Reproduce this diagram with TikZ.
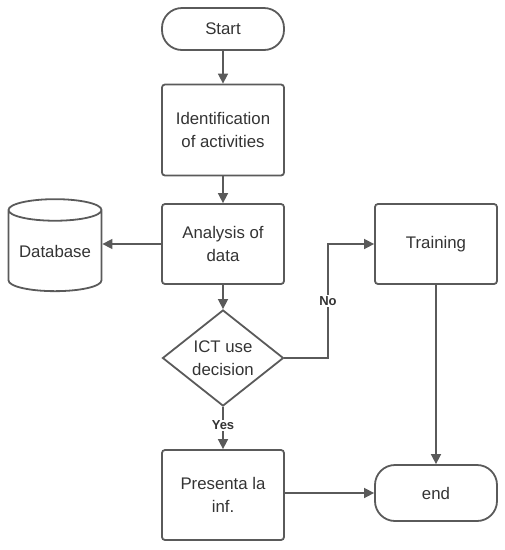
\documentclass[tikz,border=0pt]{standalone}
\usepackage{fontspec}
\setmainfont{Liberation Sans}
\usetikzlibrary{arrows.meta,shapes.geometric}
\definecolor{ln}{HTML}{5A5A5A}
\definecolor{tx}{HTML}{333333}
\begin{document}
\begin{tikzpicture}[x=1pt,y=-1pt,
  base/.style={draw=ln, line width=1.8pt, text=tx, font=\fontsize{16.8}{22.5}\selectfont, align=center, inner sep=0pt},
  procbox/.style={base, rectangle, rounded corners=3pt, minimum width=122pt, minimum height=#1},
  termbox/.style={base, rectangle, rounded corners=20pt, minimum width=122pt, minimum height=#1},
  decbox/.style={base, diamond, minimum width=121pt, minimum height=91pt},
  dbbox/.style={base, cylinder, shape border rotate=90, aspect=0.3, minimum width=93pt, minimum height=92pt},
  conn/.style={draw=ln, line width=1.6pt, -{Triangle[length=10pt,width=10pt]}},
  lbl/.style={text=tx, font=\fontsize{13}{15}\selectfont\bfseries, fill=white, inner sep=1pt}
]
\useasboundingbox (0,0) rectangle (505,550);
\node[termbox=42pt] (start) at (223,29) {Start};
\node[procbox=91pt] (ident) at (223,130) {Identification\\of activities};
\node[procbox=80pt] (anal) at (223,244) {Analysis of\\data};
\node[dbbox] (db) at (55,251) {Database};
\node[decbox] (dec) at (223,358) {ICT use\\decision};
\node[procbox=90pt] (pres) at (223,495) {Presenta la\\inf.};
\node[procbox=80pt] (train) at (436,244) {Training};
\node[termbox=56pt] (end) at (436,493) {end};
\coordinate (nocorner) at (328,358);
\draw[conn] (start) -- (ident);
\draw[conn] (ident) -- (anal);
\draw[conn] (anal) -- (db.east |- anal.west);
\draw[conn] (anal) -- (dec);
\draw[conn] (dec.south) -- (pres.north) node[lbl, pos=0.43] {Yes};
\draw[conn] (dec.east) -- (nocorner) -- (nocorner |- train.west) node[lbl, pos=0.5] {No} -- (train.west);
\draw[conn] (pres.east |- end.west) -- (end.west);
\draw[conn] (train) -- (end);
\end{tikzpicture}
\end{document}
